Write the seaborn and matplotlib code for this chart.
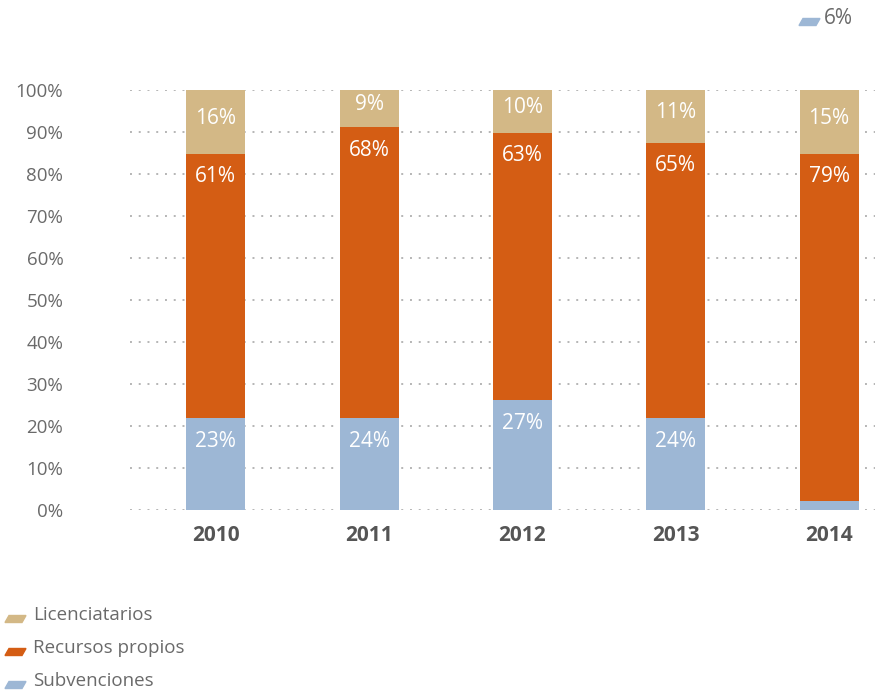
import matplotlib.pyplot as plt
import numpy as np
import pandas as pd
import seaborn as sns
from matplotlib.patches import Polygon

# datos (altura de cada tramo en %)
years = ["2010", "2011", "2012", "2013", "2014"]
subvenciones = [21.9, 21.9, 26.2, 21.9, 2.1]
recursos = [62.9, 69.3, 63.6, 65.6, 82.7]
licenciatarios = [15.2, 8.8, 10.2, 12.5, 15.2]

# etiquetas que muestra el gráfico
lab_subv = ["23%", "24%", "27%", "24%", ""]
lab_rec = ["61%", "68%", "63%", "65%", "79%"]
lab_lic = ["16%", "9%", "10%", "11%", "15%"]

series = ["Licenciatarios", "Recursos propios", "Subvenciones"]
colors = {"Licenciatarios": "#D3B886", "Recursos propios": "#D45D14", "Subvenciones": "#9DB7D5"}

df = pd.DataFrame({"year": years, "subv": subvenciones, "rec": recursos, "lic": licenciatarios})
df["top_subv"] = df["subv"]
df["top_rec"] = df["subv"] + df["rec"]
df["top_lic"] = df["top_rec"] + df["lic"]

sns.set_style("white")
plt.rcParams["font.family"] = ["Open Sans", "DejaVu Sans"]

fig = plt.figure(figsize=(8.85, 6.93), dpi=100)
ax = fig.add_axes([130 / 885, 1 - 510 / 693, 745 / 885, 420 / 693])

# barras apiladas: se dibuja el total acumulado de mayor a menor
for col, name in [("top_lic", "Licenciatarios"), ("top_rec", "Recursos propios"),
                  ("top_subv", "Subvenciones")]:
    sns.barplot(data=df, x="year", y=col, color=colors[name], width=0.385,
                saturation=1, linewidth=0, ax=ax, zorder=3)

# etiquetas dentro de las barras
for i in range(len(years)):
    txt = dict(ha="center", va="center", color="white", fontsize=15, zorder=4)
    ax.text(i, df["top_rec"][i] + df["lic"][i] / 2 + 0.9, lab_lic[i], **txt)
    ax.text(i, df["top_rec"][i] - 5.5, lab_rec[i], **txt)
    if lab_subv[i]:
        ax.text(i, df["top_subv"][i] - 5.5, lab_subv[i], **txt)

ax.set_ylim(0, 100)
ax.set_xlim(-0.56, 4.3)
ax.set_yticks(np.arange(0, 101, 10))
ax.set_yticklabels([f"{v}%" for v in range(0, 101, 10)])
ax.grid(axis="y", color="#b5b5b5", linestyle=(0, (1, 3.5)), linewidth=1.4, zorder=0)
ax.grid(axis="x", visible=False)
sns.despine(ax=ax, left=True, bottom=True)
ax.tick_params(axis="y", length=0, pad=48, labelsize=13.5, labelcolor="#6a6a6a")
ax.tick_params(axis="x", length=0, pad=11, labelsize=15, labelcolor="#555555")
for t in ax.get_xticklabels():
    t.set_fontweight("bold")
ax.set_xlabel("")
ax.set_ylabel("")


def marker(x, y, color):
    # pequeño paralelogramo como en la leyenda original (coordenadas en px)
    pts = [(x, y + 3.5), (x + 17, y + 3.5), (x + 21, y - 3.5), (x + 4, y - 3.5)]
    pts = [(px / 885, 1 - py / 693) for px, py in pts]
    fig.patches.append(Polygon(pts, closed=True, color=color, transform=fig.transFigure))


# leyenda inferior
for k, name in enumerate(series):
    y = 615 + 33 * k
    marker(5, y + 4, colors[name])
    fig.text(33 / 885, 1 - y / 693, name, fontsize=13.5, color="#6a6a6a", va="center")

# etiqueta suelta arriba a la derecha
marker(799, 22, colors["Subvenciones"])
fig.text(824 / 885, 1 - 19 / 693, "6%", fontsize=15, color="#6a6a6a", va="center")

plt.savefig("out.png", dpi=100)
